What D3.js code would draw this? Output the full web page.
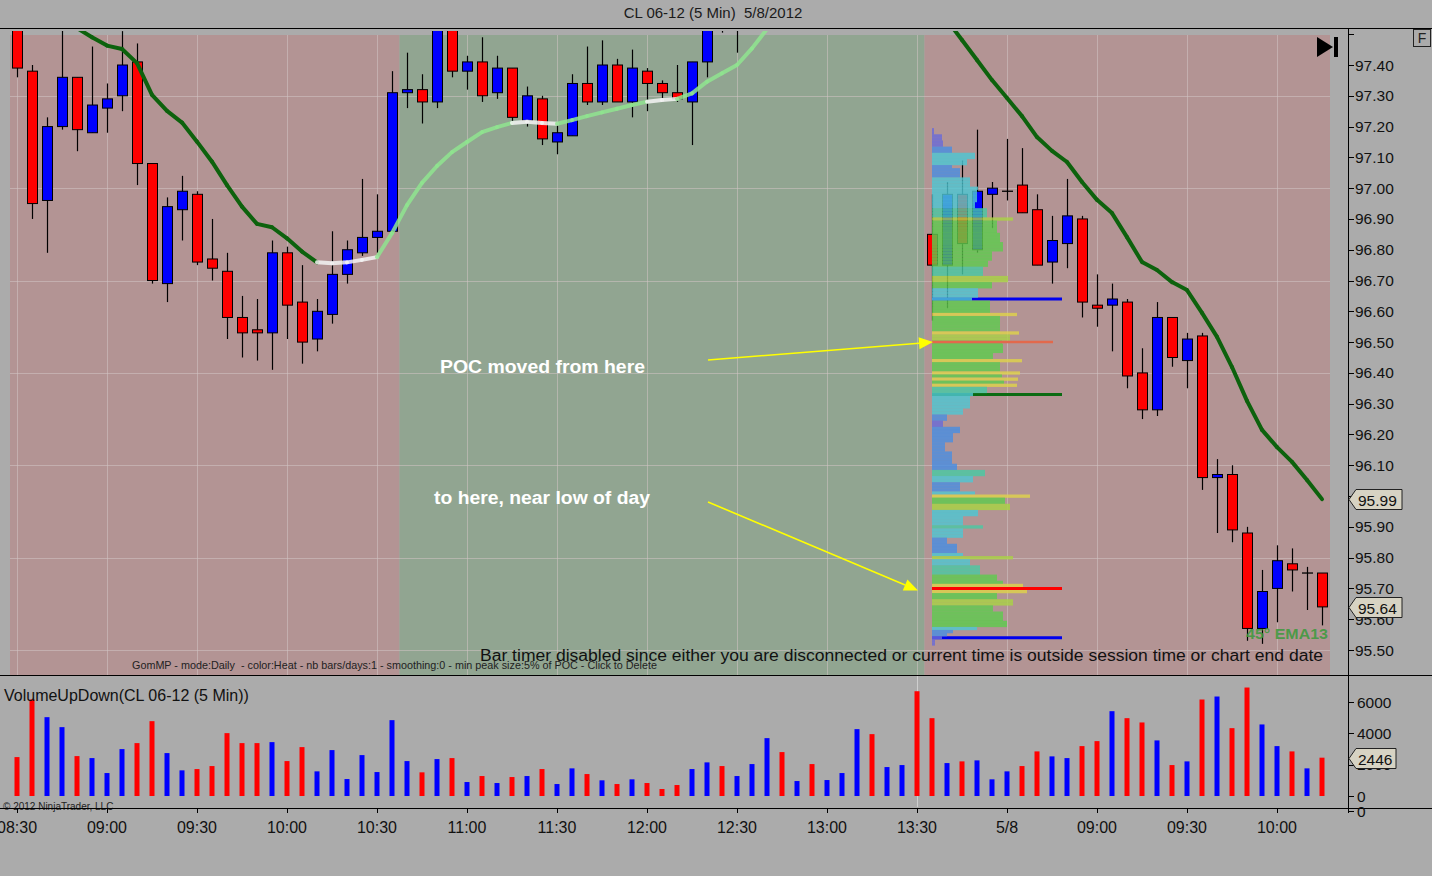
<!DOCTYPE html>
<html><head><meta charset="utf-8">
<script src="https://cdn.jsdelivr.net/npm/d3@7"></script>
<style>html,body{margin:0;padding:0;background:#ababab;overflow:hidden}svg{display:block;font-family:"Liberation Sans",Arial,sans-serif}</style>
</head><body><svg id="c" width="1432" height="876"></svg>
<script>
// ---------------- DATA ----------------
const opens  = [97.55,97.38,96.96,97.20,97.36,97.18,97.26,97.30,97.41,97.08,96.69,96.93,96.98,96.77,96.73,96.58,96.54,96.53,96.79,96.63,96.51,96.59,96.72,96.79,96.84,96.86,97.31,97.32,97.28,97.53,97.38,97.41,97.31,97.39,97.22,97.29,97.15,97.17,97.34,97.28,97.40,97.28,97.38,97.34,97.31,97.28,97.41,97.57,97.54,97.63,97.68,97.80,97.72,97.74,97.68,97.70,97.73,97.85,97.76,97.78,97.80,96.85,96.75,96.98,96.80,96.98,96.99,97.01,96.93,96.76,96.82,96.90,96.62,96.62,96.63,96.40,96.28,96.58,96.44,96.52,96.06,96.07,95.88,95.57,95.70,95.78,95.75,95.75];
const highs  = [97.60,97.40,97.23,97.52,97.36,97.46,97.34,97.51,97.47,97.08,96.97,97.04,96.99,96.90,96.79,96.65,96.64,96.83,96.81,96.75,96.64,96.86,96.83,97.03,96.98,97.38,97.44,97.37,97.55,97.56,97.43,97.49,97.43,97.39,97.33,97.30,97.21,97.37,97.46,97.48,97.42,97.45,97.39,97.35,97.40,97.41,97.56,97.60,97.66,97.70,97.82,97.84,97.76,97.77,97.72,97.75,97.88,97.90,97.80,97.82,97.82,96.98,97.02,97.09,97.19,97.02,97.16,97.13,96.98,96.91,97.03,96.91,96.72,96.69,96.64,96.48,96.63,96.58,96.53,96.53,96.12,96.10,95.90,95.76,95.84,95.83,95.77,95.75];
const lows   = [97.36,96.90,96.79,97.19,97.12,97.18,97.18,97.25,97.01,96.69,96.63,96.83,96.75,96.70,96.51,96.45,96.44,96.41,96.51,96.43,96.47,96.56,96.69,96.78,96.79,96.85,97.26,97.21,97.26,97.36,97.32,97.28,97.29,97.21,97.20,97.14,97.11,97.17,97.27,97.27,97.28,97.23,97.25,97.28,97.28,97.14,97.36,97.505,97.44,97.60,97.66,97.70,97.70,97.66,97.66,97.68,97.72,97.74,97.73,97.75,97.60,96.57,96.61,96.72,96.79,96.87,96.96,96.92,96.75,96.69,96.74,96.58,96.55,96.47,96.35,96.25,96.26,96.42,96.35,96.02,95.88,95.85,95.53,95.52,95.59,95.69,95.63,95.58];
const closes = [97.39,96.95,97.20,97.36,97.19,97.27,97.29,97.40,97.08,96.70,96.94,96.99,96.76,96.74,96.58,96.53,96.53,96.79,96.62,96.50,96.60,96.72,96.80,96.84,96.86,97.31,97.32,97.28,97.52,97.38,97.41,97.30,97.39,97.23,97.30,97.16,97.18,97.34,97.28,97.40,97.28,97.39,97.34,97.31,97.29,97.41,97.53,97.54,97.63,97.68,97.80,97.72,97.74,97.68,97.70,97.73,97.85,97.76,97.78,97.80,97.64,96.75,96.98,96.82,96.99,97.00,96.99,96.92,96.75,96.83,96.91,96.63,96.61,96.64,96.39,96.28,96.58,96.45,96.51,96.06,96.07,95.89,95.57,95.69,95.79,95.76,95.75,95.64];
const volumes = [2484,6159,5032,4395,2548,2420,1465,2994,3376,4777,2739,1637,1720,1911,4013,3376,3376,3439,2229,3121,1573,2930,1083,2611,1529,4841,2229,1510,2357,2420,892,1274,828,1210,1274,1720,764,1764,1401,1000,764,1064,828,446,701,1720,2146,1911,1274,2038,3694,2803,955,2038,1019,1465,4268,3949,1847,1975,6688,4968,2102,2210,2274,1064,1573,1911,2847,2529,2420,3185,3503,5414,4968,4694,3548,1975,2210,6159,6350,4331,6924,4567,3185,2847,1764,2446];
const ema13 = [97.62,97.60,97.57,97.545,97.52,97.49,97.463,97.452,97.406,97.303,97.251,97.213,97.151,97.086,97.010,96.940,96.884,96.873,96.837,96.794,96.759,96.756,96.759,96.767,96.776,96.854,96.945,97.017,97.072,97.117,97.150,97.182,97.198,97.212,97.216,97.212,97.209,97.221,97.234,97.246,97.258,97.270,97.281,97.286,97.290,97.308,97.346,97.373,97.400,97.454,97.517,97.55,97.58,97.61,97.63,97.65,97.67,97.69,97.70,97.71,97.72,97.60,97.546,97.481,97.416,97.351,97.293,97.234,97.166,97.121,97.085,97.020,96.962,96.919,96.841,96.760,96.734,96.695,96.669,96.595,96.517,96.419,96.309,96.215,96.159,96.111,96.052,95.990];
const tickBars   = [0,6,12,18,24,30,36,42,48,54,60,66,72,78,84];
const tickLabels = ["08:30","09:00","09:30","10:00","10:30","11:00","11:30","12:00","12:30","13:00","13:30","5/8","09:00","09:30","10:00"];
const priceTicks = [95.5,95.6,95.7,95.8,95.9,96.0,96.1,96.2,96.3,96.4,96.5,96.6,96.7,96.8,96.9,97.0,97.1,97.2,97.3,97.4];
const priceGrid  = [95.5,95.8,96.1,96.4,96.7,97.0,97.3];
const volTicks   = [0,2000,4000,6000];
const shadeFromBar = 26, shadeToBar = 60, session2Bar = 61;
// volume profile (GomMP) runs: hi price, lo price, relative volume per tick
const profHi  = [97.19,97.17,97.15,97.13,97.11,97.09,97.07,97.06,97.03,97.00,96.99,96.95,96.93,96.90,96.89,96.85,96.82,96.79,96.76,96.74,96.71,96.69,96.67,96.64,96.63,96.59,96.58,96.53,96.52,96.50,96.49,96.46,96.44,96.43,96.40,96.39,96.38,96.37,96.36,96.35,96.33,96.32,96.28,96.26,96.24,96.22,96.20,96.17,96.14,96.10,96.08,96.06,96.04,96.01,96.00,95.99,95.97,95.95,95.93,95.90,95.89,95.86,95.84,95.81,95.80,95.79,95.77,95.74,95.72,95.71,95.70,95.69,95.68,95.66,95.64,95.62,95.59,95.57,95.56,95.55,95.54,95.53];
const profLo  = [97.18,97.16,97.14,97.12,97.10,97.08,97.07,97.04,97.01,97.00,96.96,96.94,96.91,96.90,96.86,96.83,96.80,96.77,96.75,96.72,96.70,96.68,96.65,96.64,96.60,96.59,96.54,96.53,96.51,96.50,96.47,96.45,96.44,96.41,96.40,96.39,96.38,96.37,96.36,96.34,96.33,96.29,96.27,96.25,96.23,96.21,96.18,96.15,96.11,96.09,96.07,96.05,96.02,96.01,96.00,95.98,95.96,95.94,95.91,95.90,95.87,95.85,95.82,95.81,95.80,95.78,95.75,95.73,95.72,95.71,95.70,95.69,95.67,95.65,95.63,95.60,95.58,95.57,95.56,95.55,95.54,95.52];
const profVol = [2,10,11,20,43,35,20,28,38,46,45,43,55,81,65,68,71,60,56,51,76,60,46,40,58,85,68,87,78,70,71,61,90,68,88,70,86,72,85,55,41,38,31,15,11,28,21,13,20,25,53,41,28,43,98,73,78,46,31,51,31,15,25,31,81,38,48,65,71,91,95,95,65,81,61,71,75,45,21,15,10,3];
const pocPrice = 95.70, prevPocPrice = 96.50, vaHigh = 96.64, vaLow = 95.54, vwapLevel = 96.33;
const lastPrice = 95.64, emaLast = 95.99, lastVolume = 2446;

// ---------------- DRAW ----------------
const svg = d3.select('#c');
const x  = d3.scaleLinear().domain([0, 87]).range([17, 1322]);
const y  = d3.scaleLinear().domain([95.5, 97.4]).range([650, 65]);
const yv = d3.scaleLinear().domain([0, 6000]).range([796, 702]);
const AX = 1348;

svg.append('rect').attr('width',1432).attr('height',876).attr('fill','#ababab');
const defs = svg.append('defs');
defs.append('clipPath').attr('id','cp').append('rect').attr('x',8).attr('y',31).attr('width',AX-8).attr('height',644);
defs.append('clipPath').attr('id','cv').append('rect').attr('x',0).attr('y',676).attr('width',AX).attr('height',131);

// title
svg.append('text').attr('x',713).attr('y',18).attr('text-anchor','middle').attr('font-size',15).attr('fill','#1a1a1a')
 .style('white-space','pre').attr('xml:space','preserve').text('CL 06-12 (5 Min)  5/8/2012');

const P = svg.append('g').attr('clip-path','url(#cp)');
const left = x(0)-7, right = x(87)+8;
const b1 = (x(shadeFromBar-1)+x(shadeFromBar))/2, b2 = (x(shadeToBar)+x(shadeToBar+1))/2;
P.append('rect').attr('x',left).attr('y',35).attr('width',b1-left).attr('height',640).attr('fill','#b39494');
P.append('rect').attr('x',b1).attr('y',35).attr('width',b2-b1).attr('height',640).attr('fill','#91a591');
P.append('rect').attr('x',b2).attr('y',35).attr('width',right-b2).attr('height',640).attr('fill','#b39494');
// grid
P.selectAll('.hg').data(priceGrid).join('line').attr('x1',left).attr('x2',right)
 .attr('y1',d=>Math.round(y(d))+0.5).attr('y2',d=>Math.round(y(d))+0.5).attr('stroke','#d2c4c4').attr('stroke-opacity',0.55);
P.selectAll('.vg').data(tickBars).join('line').attr('x1',d=>x(d)+0.5).attr('x2',d=>x(d)+0.5)
 .attr('y1',35).attr('y2',675).attr('stroke','#d2c4c4').attr('stroke-opacity',0.55);

// candles
const idx = d3.range(opens.length);
const RED='#ff0000', BLUE='#0000ff';
P.selectAll('.wk').data(idx).join('line').attr('x1',i=>x(i)+0.5).attr('x2',i=>x(i)+0.5)
 .attr('y1',i=>y(highs[i])).attr('y2',i=>y(lows[i])).attr('stroke','#000').attr('stroke-width',1.2);
P.selectAll('.bd').data(idx.filter(i=>opens[i]!==closes[i])).join('rect')
 .attr('x',i=>x(i)-4.5).attr('width',10)
 .attr('y',i=>y(Math.max(opens[i],closes[i])))
 .attr('height',i=>Math.max(1,Math.abs(y(opens[i])-y(closes[i]))))
 .attr('fill',i=>closes[i]>opens[i]?BLUE:RED).attr('stroke','#000').attr('stroke-width',1);
P.selectAll('.dj').data(idx.filter(i=>opens[i]===closes[i])).join('line')
 .attr('x1',i=>x(i)-5).attr('x2',i=>x(i)+6).attr('y1',i=>y(opens[i])).attr('y2',i=>y(opens[i])).attr('stroke','#000').attr('stroke-width',1.3);

// profile lines under profile
const s2 = x(session2Bar);
function lvl(p,c,w,len){P.append('line').attr('x1',s2).attr('x2',s2+len).attr('y1',y(p)).attr('y2',y(p)).attr('stroke',c).attr('stroke-width',w);}
lvl(vaHigh,'#0000ee',3,130); lvl(vaLow,'#0000ee',3,130); lvl(vwapLevel,'#0b6b12',3,130);

// profile
const rows=[];
profHi.forEach((h,k)=>{ for(let p=Math.round(h*100); p>=Math.round(profLo[k]*100); p--) rows.push({p:p/100,v:profVol[k]}); });
const vmax = d3.max(profVol);
const pw = d3.scaleLinear().domain([0,100]).range([0,100]);
function heat(v){const r=v/vmax; if(r<0.12)return '#6a6ad8'; if(r<0.3)return '#4a8ee0'; if(r<0.47)return '#4fc6d2'; if(r<0.57)return '#4ac8a2'; if(r<0.775)return '#5fca4e'; if(r<0.86)return '#a9d244'; return '#dfd24a';}
P.selectAll('.pf').data(rows).join('rect').attr('x',s2).attr('width',d=>pw(d.v))
 .attr('y',d=>y(d.p+0.005)).attr('height',d=>y(d.p-0.005)-y(d.p+0.005)+0.2)
 .attr('fill',d=>heat(d.v)).attr('opacity',0.82);
lvl(prevPocPrice,'#e2694c',2.5,121); lvl(pocPrice,'#ff0000',3,130);

// EMA with slope colouring
const segs = d3.range(ema13.length-1);
P.selectAll('.em').data(segs).join('line')
 .attr('x1',i=>x(i)).attr('x2',i=>x(i+1)).attr('y1',i=>y(ema13[i])).attr('y2',i=>y(ema13[i+1]))
 .attr('stroke',i=>{const d=ema13[i+1]-ema13[i]; return d< -0.0095?'#0d620d':(d>0.0095?'#8fe48f':'#f3f3f3');})
 .attr('stroke-opacity',i=>{const d=ema13[i+1]-ema13[i]; return d< -0.0095?1:0.85;})
 .attr('stroke-width',4).attr('stroke-linecap','round');

// texts in price pane
P.append('text').attr('x',440).attr('y',373).attr('font-size',18).attr('font-weight','bold').attr('fill','#fff')
 .attr('textLength',205).attr('lengthAdjust','spacingAndGlyphs').text('POC moved from here');
P.append('text').attr('x',434).attr('y',504).attr('font-size',18).attr('font-weight','bold').attr('fill','#fff')
 .attr('textLength',216).attr('lengthAdjust','spacingAndGlyphs').text('to here, near low of day');
function arrow(x1,y1,x2,y2){
  const a=Math.atan2(y2-y1,x2-x1), L=14, Wd=6;
  const bx=x2-L*Math.cos(a), by=y2-L*Math.sin(a);
  P.append('line').attr('x1',x1).attr('y1',y1).attr('x2',bx).attr('y2',by).attr('stroke','#ffff00').attr('stroke-width',1.6);
  P.append('path').attr('d',`M${x2},${y2}L${bx-Wd*Math.sin(a)},${by+Wd*Math.cos(a)}L${bx+Wd*Math.sin(a)},${by-Wd*Math.cos(a)}Z`).attr('fill','#ffff00');
}
arrow(708,360,s2+1,y(prevPocPrice));
arrow(708,502,x(60)+1,y(pocPrice)+2);
P.append('text').attr('x',1246).attr('y',639).attr('font-size',15).attr('font-weight','bold').attr('fill','#3f9a3f').attr('fill-opacity',0.9)
 .attr('textLength',82).attr('lengthAdjust','spacingAndGlyphs').text('45° EMA13');
P.append('text').attr('x',480).attr('y',661).attr('font-size',16).attr('fill','#111').attr('textLength',843).attr('lengthAdjust','spacingAndGlyphs')
 .text('Bar timer disabled since either you are disconnected or current time is outside session time or chart end date');
P.append('text').attr('x',132).attr('y',669).attr('font-size',11).attr('fill','#222').attr('textLength',525).attr('lengthAdjust','spacingAndGlyphs')
 .style('white-space','pre').attr('xml:space','preserve')
 .text('GomMP - mode:Daily  - color:Heat - nb bars/days:1 - smoothing:0 - min peak size:5% of POC - Click to Delete');

// go-to-end icon and F box
svg.append('path').attr('d','M1317,37L1333,47L1317,57Z').attr('fill','#000');
svg.append('rect').attr('x',1334).attr('y',37).attr('width',4).attr('height',20).attr('fill','#000');
svg.append('rect').attr('x',1413.5).attr('y',29.5).attr('width',17).attr('height',17).attr('fill','none').attr('stroke','#222');
svg.append('text').attr('x',1422).attr('y',43).attr('text-anchor','middle').attr('font-size',14).attr('fill','#222').text('F');

// volume pane
const V = svg.append('g').attr('clip-path','url(#cv)');
V.append('line').attr('x1',x(shadeToBar)+0.5).attr('x2',x(shadeToBar)+0.5).attr('y1',676).attr('y2',808).attr('stroke','#e6e6e6').attr('stroke-opacity',0.6);
V.selectAll('.vb').data(idx).join('rect').attr('x',i=>x(i)-2.5).attr('width',5)
 .attr('y',i=>yv(volumes[i])).attr('height',i=>yv(0)-yv(volumes[i]))
 .attr('fill',i=>closes[i]>=opens[i]?BLUE:RED);
svg.append('text').attr('x',4).attr('y',701).attr('font-size',16).attr('fill','#111').text('VolumeUpDown(CL 06-12 (5 Min))');
svg.append('text').attr('x',3).attr('y',810).attr('font-size',10).attr('fill','#222').text('© 2012 NinjaTrader, LLC');

// frame lines
svg.append('line').attr('x1',0).attr('x2',1432).attr('y1',28.5).attr('y2',28.5).attr('stroke','#000');
svg.append('line').attr('x1',0).attr('x2',1432).attr('y1',675.5).attr('y2',675.5).attr('stroke','#000');
svg.append('line').attr('x1',0).attr('x2',1432).attr('y1',808.5).attr('y2',808.5).attr('stroke','#000');
svg.append('line').attr('x1',AX+0.5).attr('x2',AX+0.5).attr('y1',28).attr('y2',813).attr('stroke','#000');

// price axis
const pa = svg.append('g');
pa.selectAll('.pt').data(priceTicks.concat([97.5])).join('line').attr('x1',AX).attr('x2',AX+6)
 .attr('y1',d=>Math.round(y(d))+0.5).attr('y2',d=>Math.round(y(d))+0.5).attr('stroke','#000');
pa.selectAll('.pl').data(priceTicks).join('text').attr('x',AX+7).attr('y',d=>y(d)+5.5).attr('font-size',15.5).attr('fill','#111').text(d=>d.toFixed(2));
function tag(val,txt,w){
  const yy=Math.round(val)+0.5;
  svg.append('path').attr('d',`M${AX+1},${yy}L${AX+8},${yy-10}L${AX+8+w},${yy-10}L${AX+8+w},${yy+10}L${AX+8},${yy+10}Z`).attr('fill','#d7d3c3').attr('stroke','#222');
  svg.append('text').attr('x',AX+10).attr('y',yy+6).attr('font-size',15.5).attr('fill','#111').text(txt);
}
tag(y(emaLast),emaLast.toFixed(2),46);
tag(y(lastPrice),lastPrice.toFixed(2),46);

// volume axis
svg.selectAll('.vt').data(volTicks).join('line').attr('x1',AX).attr('x2',AX+6).attr('y1',d=>Math.round(yv(d))+0.5).attr('y2',d=>Math.round(yv(d))+0.5).attr('stroke','#000');
svg.selectAll('.vl').data(volTicks).join('text').attr('x',AX+9).attr('y',d=>yv(d)+5.5).attr('font-size',15.5).attr('fill','#111').text(d=>d);
svg.append('line').attr('x1',AX).attr('x2',AX+6).attr('y1',811.5).attr('y2',811.5).attr('stroke','#000');
svg.append('text').attr('x',AX+9).attr('y',817).attr('font-size',15.5).attr('fill','#111').text('0');
tag(yv(lastVolume),String(lastVolume),40);

// time axis
svg.selectAll('.tt').data(tickBars).join('line').attr('x1',d=>x(d)+0.5).attr('x2',d=>x(d)+0.5).attr('y1',808).attr('y2',813).attr('stroke','#000');
svg.selectAll('.tl').data(tickBars).join('text').attr('x',d=>x(d)).attr('y',833).attr('text-anchor','middle').attr('font-size',16).attr('fill','#111').text((d,k)=>tickLabels[k]);
</script></body></html>
